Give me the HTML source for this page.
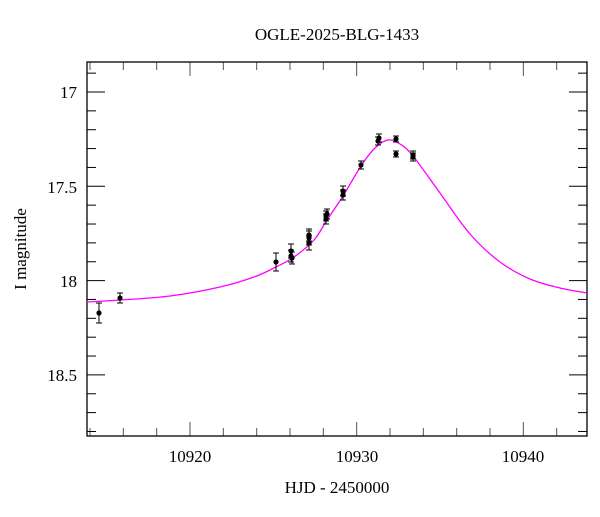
<!DOCTYPE html>
<html><head><meta charset="utf-8"><style>body{margin:0;background:#fff}svg text{font-family:"Liberation Serif",serif;fill:#000}</style></head>
<body>
<svg id="s" width="600" height="512" xmlns="http://www.w3.org/2000/svg">
<text x="337" y="40" font-size="17" text-anchor="middle">OGLE-2025-BLG-1433</text>
<text x="337" y="493" font-size="17" text-anchor="middle">HJD - 2450000</text>
<text transform="translate(26,249) rotate(-90)" font-size="17" text-anchor="middle">I magnitude</text>
<g font-size="17" text-anchor="middle">
<text x="190" y="462">10920</text><text x="357" y="462">10930</text><text x="523" y="462">10940</text>
</g>
<g font-size="17" text-anchor="end">
<text x="77" y="98">17</text><text x="77" y="193">17.5</text><text x="77" y="287">18</text><text x="77" y="381">18.5</text>
</g>
<g id="ax" stroke="#000" fill="none" stroke-width="1"></g>
<rect x="87" y="62" width="500" height="374" fill="none" stroke="#000" stroke-width="1.3"/>
<path id="c" fill="none" stroke="#f0f" stroke-width="1.3"/>
<g id="d"></g>
</svg>
<script>
var X=t=>190+(t-10920)*16.667, Y=m=>92+(m-17)*188.6;
var ax=document.getElementById('ax'),h='';
for(var t=10914;t<=10942;t+=2){var x=X(t),L=(t%10==0)?14:8;h+=`<line x1="${x}" y1="436" x2="${x}" y2="${436-L}" stroke="#555"/><line x1="${x}" y1="62" x2="${x}" y2="${62+L}" stroke="#555"/>`;}
for(var i=0;i<=19;i++){var m=16.9+i*0.1,y=Y(m);if(y<62||y>436)continue;var L=(Math.round(m*10)%5==0)?18:9;h+=`<line x1="87" y1="${y}" x2="${87+L}" y2="${y}"/><line x1="587" y1="${y}" x2="${587-L}" y2="${y}"/>`;}
ax.innerHTML=h;
var P=[[87,302],[120,300],[170,296],[220,287],[254,277],[274,268],[294,257],[314,240],[327,220],[343,196],[361,166],[375,148],[388,140],[400,144],[413,156],[440,193],[470,234],[500,262],[530,279],[560,288],[587,293]];
var p='M'+P[0][0]+' '+P[0][1];
for(var i=0;i<P.length-1;i++){var a=P[Math.max(i-1,0)],b=P[i],c=P[i+1],d=P[Math.min(i+2,P.length-1)];
p+=` C${(b[0]+(c[0]-a[0])/6).toFixed(1)} ${(b[1]+(c[1]-a[1])/6).toFixed(1)} ${(c[0]-(d[0]-b[0])/6).toFixed(1)} ${(c[1]-(d[1]-b[1])/6).toFixed(1)} ${c[0]} ${c[1]}`;}
document.getElementById('c').setAttribute('d',p);
var pts=[[99,313,10],[120,298,5],[276,262,9],[291,251,7],[291,256,6],[292,258,6],[309,238,7],[309,243,7],[309,235,6],[326,216,5],[326,219,5],[327,214,5],[343,191,5],[343,195,5],[361,165,4],[378,141,4],[379,138,4],[396,139,3],[396,154,3],[413,155,4],[413,157,4]];
var g='';pts.forEach(q=>{g+=`<line x1="${q[0]}" y1="${q[1]-q[2]}" x2="${q[0]}" y2="${q[1]+q[2]}" stroke="#000"/><line x1="${q[0]-3}" y1="${q[1]-q[2]}" x2="${q[0]+3}" y2="${q[1]-q[2]}" stroke="#000"/><line x1="${q[0]-3}" y1="${q[1]+q[2]}" x2="${q[0]+3}" y2="${q[1]+q[2]}" stroke="#000"/><circle cx="${q[0]}" cy="${q[1]}" r="2.6" fill="#000"/>`;});
document.getElementById('d').innerHTML=g;
</script>
</body></html>
